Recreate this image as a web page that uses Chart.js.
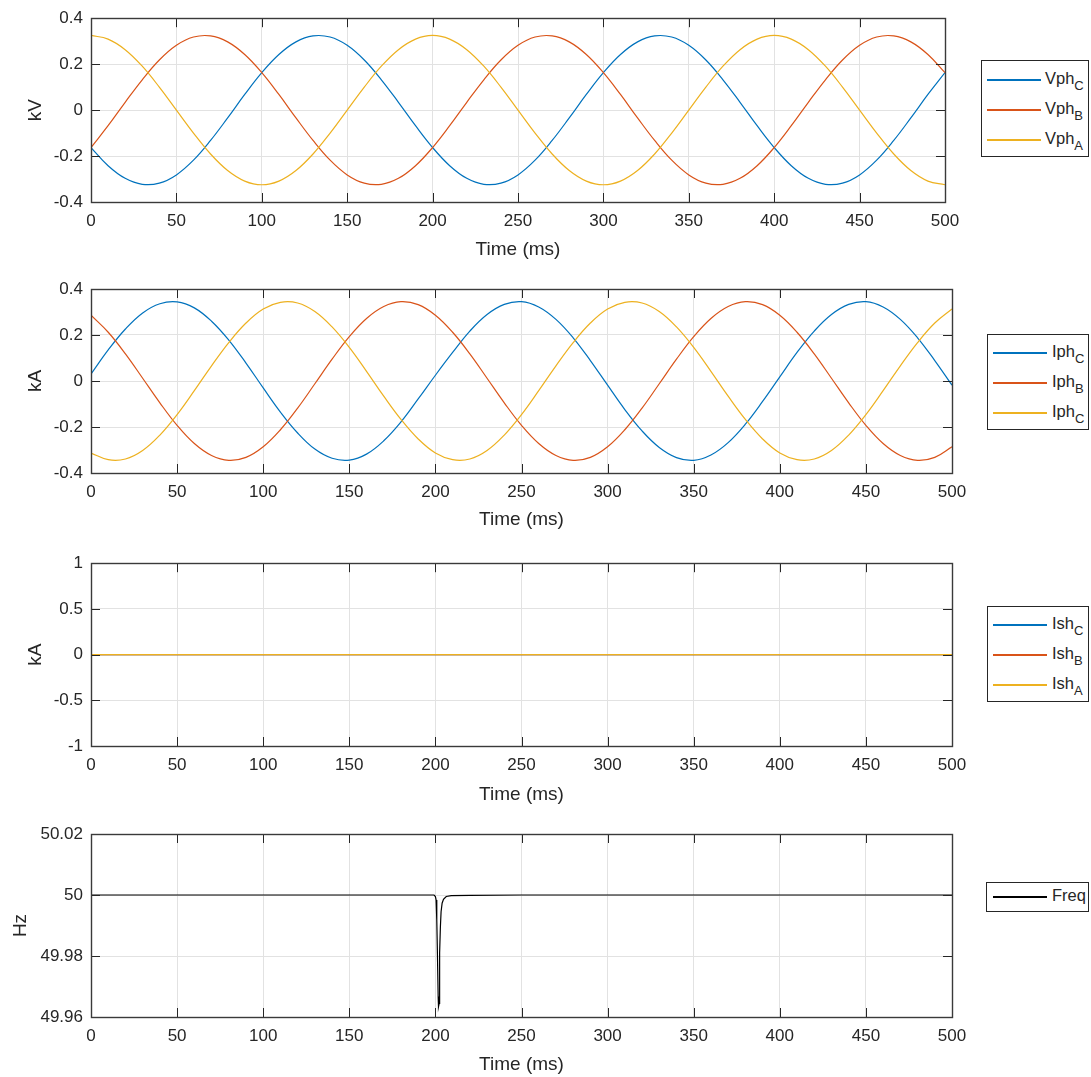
<!DOCTYPE html>
<html><head><meta charset="utf-8">
<script src="https://cdn.jsdelivr.net/npm/chart.js@4.4.1/dist/chart.umd.min.js"></script>
<style>
body{margin:0;background:#fff;width:1091px;height:1077px;position:relative;overflow:hidden;font-family:"Liberation Sans",Arial,sans-serif;color:#262626}
canvas{position:absolute;left:0}
.leg{position:absolute;border:1px solid #262626;background:#fff;box-sizing:border-box}
.row{position:absolute;left:0;height:0;width:100%}
.ln{position:absolute;height:1.3px;top:-0.6px}
.tx{position:absolute;font-size:16.5px;line-height:18px;top:-11px;white-space:nowrap}
.tx sub{font-size:13px;vertical-align:-6px;line-height:0}
</style></head><body>
<canvas id="c1"></canvas><canvas id="c2"></canvas><canvas id="c3"></canvas><canvas id="c4"></canvas>
<div id="legends"></div>
<script>
// ---------- data ----------
const timeMs = [0,10,20,30,40,50,60,70,80,90,100,110,120,130,140,150,160,170,180,190,200,210,220,230,240,250,260,270,280,290,300,310,320,330,340,350,360,370,380,390,400,410,420,430,440,450,460,470,480,490,500];
const xTickVals = [0,50,100,150,200,250,300,350,400,450,500];

// Voltage (kV)
const vphC = [-0.163,-0.242,-0.297,-0.323,-0.318,-0.282,-0.218,-0.132,-0.034,0.068,0.163,0.242,0.297,0.323,0.318,0.282,0.218,0.132,0.034,-0.068,
              -0.163,-0.242,-0.297,-0.323,-0.318,-0.282,-0.218,-0.132,-0.034,0.068,0.163,0.242,0.297,0.323,0.318,0.282,0.218,0.132,0.034,-0.068,
              -0.163,-0.242,-0.297,-0.323,-0.318,-0.282,-0.218,-0.132,-0.034,0.068,0.163];
const vphB = [-0.163,-0.068,0.034,0.132,0.218,0.282,0.318,0.323,0.297,0.242,0.163,0.068,-0.034,-0.132,-0.218,-0.282,-0.318,-0.323,-0.297,-0.242,
              -0.163,-0.068,0.034,0.132,0.218,0.282,0.318,0.323,0.297,0.242,0.163,0.068,-0.034,-0.132,-0.218,-0.282,-0.318,-0.323,-0.297,-0.242,
              -0.163,-0.068,0.034,0.132,0.218,0.282,0.318,0.323,0.297,0.242,0.163];
const vphA = [0.325,0.309,0.263,0.191,0.100,0,-0.100,-0.191,-0.263,-0.309,-0.325,-0.309,-0.263,-0.191,-0.100,0,0.100,0.191,0.263,0.309,
              0.325,0.309,0.263,0.191,0.100,0,-0.100,-0.191,-0.263,-0.309,-0.325,-0.309,-0.263,-0.191,-0.100,0,0.100,0.191,0.263,0.309,
              0.325,0.309,0.263,0.191,0.100,0,-0.100,-0.191,-0.263,-0.309,-0.325];
const vTickVals = [-0.4,-0.2,0,0.2,0.4];
const vTickLabels = ['-0.4','-0.2','0','0.2','0.4'];

// Phase current (kA)
const iphC = [0.030,0.135,0.226,0.296,0.336,0.344,0.318,0.260,0.178,0.078,-0.030,-0.135,-0.226,-0.296,-0.336,-0.344,-0.318,-0.260,-0.178,-0.078,
              0.025,0.124,0.217,0.289,0.333,0.345,0.322,0.268,0.188,0.089,-0.018,-0.124,-0.217,-0.289,-0.333,-0.345,-0.322,-0.268,-0.188,-0.089,
              0.018,0.124,0.217,0.289,0.333,0.345,0.322,0.268,0.188,0.089,-0.018];
const iphB = [0.286,0.212,0.118,0.012,-0.095,-0.193,-0.272,-0.324,-0.345,-0.332,-0.286,-0.212,-0.118,-0.012,0.095,0.193,0.272,0.324,0.345,0.332,
              0.286,0.212,0.118,0.012,-0.095,-0.193,-0.272,-0.324,-0.345,-0.332,-0.286,-0.212,-0.118,-0.012,0.095,0.193,0.272,0.324,0.345,0.332,
              0.286,0.212,0.118,0.012,-0.095,-0.193,-0.272,-0.324,-0.345,-0.332,-0.286];
const iphC2 = [-0.313,-0.342,-0.339,-0.302,-0.235,-0.146,-0.042,0.066,0.167,0.252,0.313,0.342,0.339,0.302,0.235,0.146,0.042,-0.066,-0.167,-0.252,
               -0.313,-0.342,-0.339,-0.302,-0.235,-0.146,-0.042,0.066,0.167,0.252,0.313,0.342,0.339,0.302,0.235,0.146,0.042,-0.066,-0.167,-0.252,
               -0.313,-0.342,-0.339,-0.302,-0.235,-0.146,-0.042,0.066,0.167,0.252,0.313];
const iTickVals = [-0.4,-0.2,0,0.2,0.4];
const iTickLabels = ['-0.4','-0.2','0','0.2','0.4'];

// Shunt current (kA)
const ishC = [0,0,0,0,0,0,0,0,0,0,0,0,0,0,0,0,0,0,0,0,0,0,0,0,0,0,0,0,0,0,0,0,0,0,0,0,0,0,0,0,0,0,0,0,0,0,0,0,0,0,0];
const ishB = [0,0,0,0,0,0,0,0,0,0,0,0,0,0,0,0,0,0,0,0,0,0,0,0,0,0,0,0,0,0,0,0,0,0,0,0,0,0,0,0,0,0,0,0,0,0,0,0,0,0,0];
const ishA = [0,0,0,0,0,0,0,0,0,0,0,0,0,0,0,0,0,0,0,0,0,0,0,0,0,0,0,0,0,0,0,0,0,0,0,0,0,0,0,0,0,0,0,0,0,0,0,0,0,0,0];
const shTickVals = [-1,-0.5,0,0.5,1];
const shTickLabels = ['-1','-0.5','0','0.5','1'];

// Frequency (Hz)
const freqTime = [0,100,199,199.2,200,200.4,200.8,201.2,201.6,201.8,202.2,202.35,202.55,202.9,203.3,203.9,204.7,206.3,209.2,220,250,300,400,500];
const freqHz   = [50,50,50,50,49.9995,49.9984,49.9918,49.980,49.9667,49.9634,49.9645,49.972,49.981,49.9896,49.9945,49.9973,49.9986,49.9995,49.9998,49.9999,50,50,50,50];
const fTickVals = [49.96,49.98,50,50.02];
const fTickLabels = ['49.96','49.98','50','50.02'];

const COL_C = '#0072BD', COL_B = '#D95319', COL_A = '#EDB120';
// ---------- drawing ----------
const TXT = '#262626';
const boxPlugin = {
  id:'box',
  afterDraw(chart){
    const {ctx, chartArea:a, scales:{x,y}} = chart;
    ctx.save();
    ctx.strokeStyle = TXT; ctx.lineWidth = 1;
    ctx.beginPath();
    for (const t of x.ticks){ const px = Math.round(x.getPixelForValue(t.value))+0.5;
      ctx.moveTo(px,a.bottom); ctx.lineTo(px,a.bottom-9); ctx.moveTo(px,a.top); ctx.lineTo(px,a.top+9); }
    for (const t of y.ticks){ const py = Math.round(y.getPixelForValue(t.value))+0.5;
      ctx.moveTo(a.left,py); ctx.lineTo(a.left+9,py); ctx.moveTo(a.right,py); ctx.lineTo(a.right-9,py); }
    ctx.stroke();
    ctx.lineWidth = 1.4; ctx.strokeStyle = '#3a3a3a';
    ctx.strokeRect(Math.round(a.left)+0.5, Math.round(a.top)+0.5, Math.round(a.right-a.left), Math.round(a.bottom-a.top));
    ctx.restore();
  }
};

function xy(xs, ys){ return xs.map((v,i)=>({x:v, y:ys[i]})); }

function makeChart(id, o){
  const cv = document.getElementById(id);
  cv.width = 1000; cv.height = o.ch; cv.style.top = o.ct + 'px';
  const plotBottomLocal = o.pb - o.ct;
  return new Chart(cv, {
    type:'line',
    data:{datasets:o.datasets},
    plugins:[boxPlugin],
    options:{
      responsive:false, animation:false, devicePixelRatio:1,
      layout:{padding:{left:0, right:1000-o.pr, top:o.pt - o.ct, bottom:0}},
      plugins:{legend:{display:false}, tooltip:{enabled:false}},
      elements:{point:{radius:0}, line:{borderWidth:1.2}},
      scales:{
        x:{type:'linear', min:0, max:500,
           afterBuildTicks:s=>{s.ticks = xTickVals.map(v=>({value:v}));},
           afterFit:s=>{s.height = o.ch - plotBottomLocal;},
           grid:{color:'#e2e2e2', drawTicks:false, lineWidth:1},
           border:{display:false},
           ticks:{color:TXT, font:{family:'Liberation Sans', size:17}, padding:9, maxRotation:0,
                  callback:(v,i)=>String(xTickVals[i])},
           title:{display:true, text:'Time (ms)', color:TXT, font:{family:'Liberation Sans', size:19}, padding:{top:0,bottom:o.xtp}}},
        y:{type:'linear', min:o.ymin, max:o.ymax,
           afterBuildTicks:s=>{s.ticks = o.yv.map(v=>({value:v}));},
           afterFit:s=>{s.width = 91;},
           grid:{color:'#e2e2e2', drawTicks:false, lineWidth:1},
           border:{display:false},
           ticks:{color:TXT, font:{family:'Liberation Sans', size:17}, padding:8,
                  callback:(v,i)=>o.yl[i]},
           title:{display:true, text:o.ytitle, color:TXT, font:{family:'Liberation Sans', size:19}, padding:{top:o.ytp,bottom:0}}}
      }
    }
  });
}
function ds(label, xs, ys, color, order, tension){
  return {label, data:xy(xs,ys), borderColor:color, backgroundColor:color, borderWidth:1.2, tension:tension, order:order, fill:false};
}

makeChart('c1',{ct:0, ch:265, pt:15, pb:202, pr:945, ymin:-0.4, ymax:0.4, yv:vTickVals, yl:vTickLabels, ytitle:'kV', ytp:24, xtp:4,
  datasets:[ds('VphC',timeMs,vphC,COL_C,2,0.4), ds('VphB',timeMs,vphB,COL_B,1,0.4), ds('VphA',timeMs,vphA,COL_A,0,0.4)]});
makeChart('c2',{ct:270, ch:265, pt:289, pb:473, pr:952, ymin:-0.4, ymax:0.4, yv:iTickVals, yl:iTickLabels, ytitle:'kA', ytp:24, xtp:4,
  datasets:[ds('IphC',timeMs,iphC,COL_C,2,0.4), ds('IphB',timeMs,iphB,COL_B,1,0.4), ds('IphC',timeMs,iphC2,COL_A,0,0.4)]});
makeChart('c3',{ct:545, ch:265, pt:563, pb:746, pr:952, ymin:-1, ymax:1, yv:shTickVals, yl:shTickLabels, ytitle:'kA', ytp:24, xtp:4,
  datasets:[ds('IshC',timeMs,ishC,COL_C,2,0), ds('IshB',timeMs,ishB,COL_B,1,0), ds('IshA',timeMs,ishA,COL_A,0,0)]});
makeChart('c4',{ct:815, ch:262, pt:834, pb:1017, pr:952, ymin:49.96, ymax:50.02, yv:fTickVals, yl:fTickLabels, ytitle:'Hz', ytp:9, xtp:1,
  datasets:[ds('Freq',freqTime,freqHz,'#000000',0,0)]});

// ---------- legends (HTML for subscripts) ----------
const legends = [
  {l:981, t:60, w:108, h:97, lx:5, lw:54, tx:63, rows:[[19,COL_C,'Vph','C'],[49,COL_B,'Vph','B'],[79,COL_A,'Vph','A']]},
  {l:987, t:334, w:102, h:96, lx:5, lw:54, tx:64, rows:[[18,COL_C,'Iph','C'],[48,COL_B,'Iph','B'],[78,COL_A,'Iph','C']]},
  {l:987, t:606, w:102, h:96, lx:5, lw:54, tx:64, rows:[[18,COL_C,'Ish','C'],[48,COL_B,'Ish','B'],[78,COL_A,'Ish','A']]},
  {l:986, t:882, w:103, h:30, lx:6, lw:54, tx:65, rows:[[14,'#000000','Freq','']]}
];
const host = document.getElementById('legends');
for (const L of legends){
  const b = document.createElement('div'); b.className='leg';
  Object.assign(b.style,{left:L.l+'px',top:L.t+'px',width:L.w+'px',height:L.h+'px'});
  for (const [ry,col,txt,sub] of L.rows){
    const r = document.createElement('div'); r.className='row'; r.style.top = ry+'px';
    const ln = document.createElement('div'); ln.className='ln';
    Object.assign(ln.style,{left:L.lx+'px', width:L.lw+'px', background:col});
    const t = document.createElement('div'); t.className='tx'; t.style.left = L.tx+'px';
    t.textContent = txt;
    if (sub){ const s = document.createElement('sub'); s.textContent = sub; t.appendChild(s); }
    r.appendChild(ln); r.appendChild(t); b.appendChild(r);
  }
  host.appendChild(b);
}
</script>
</body></html>
